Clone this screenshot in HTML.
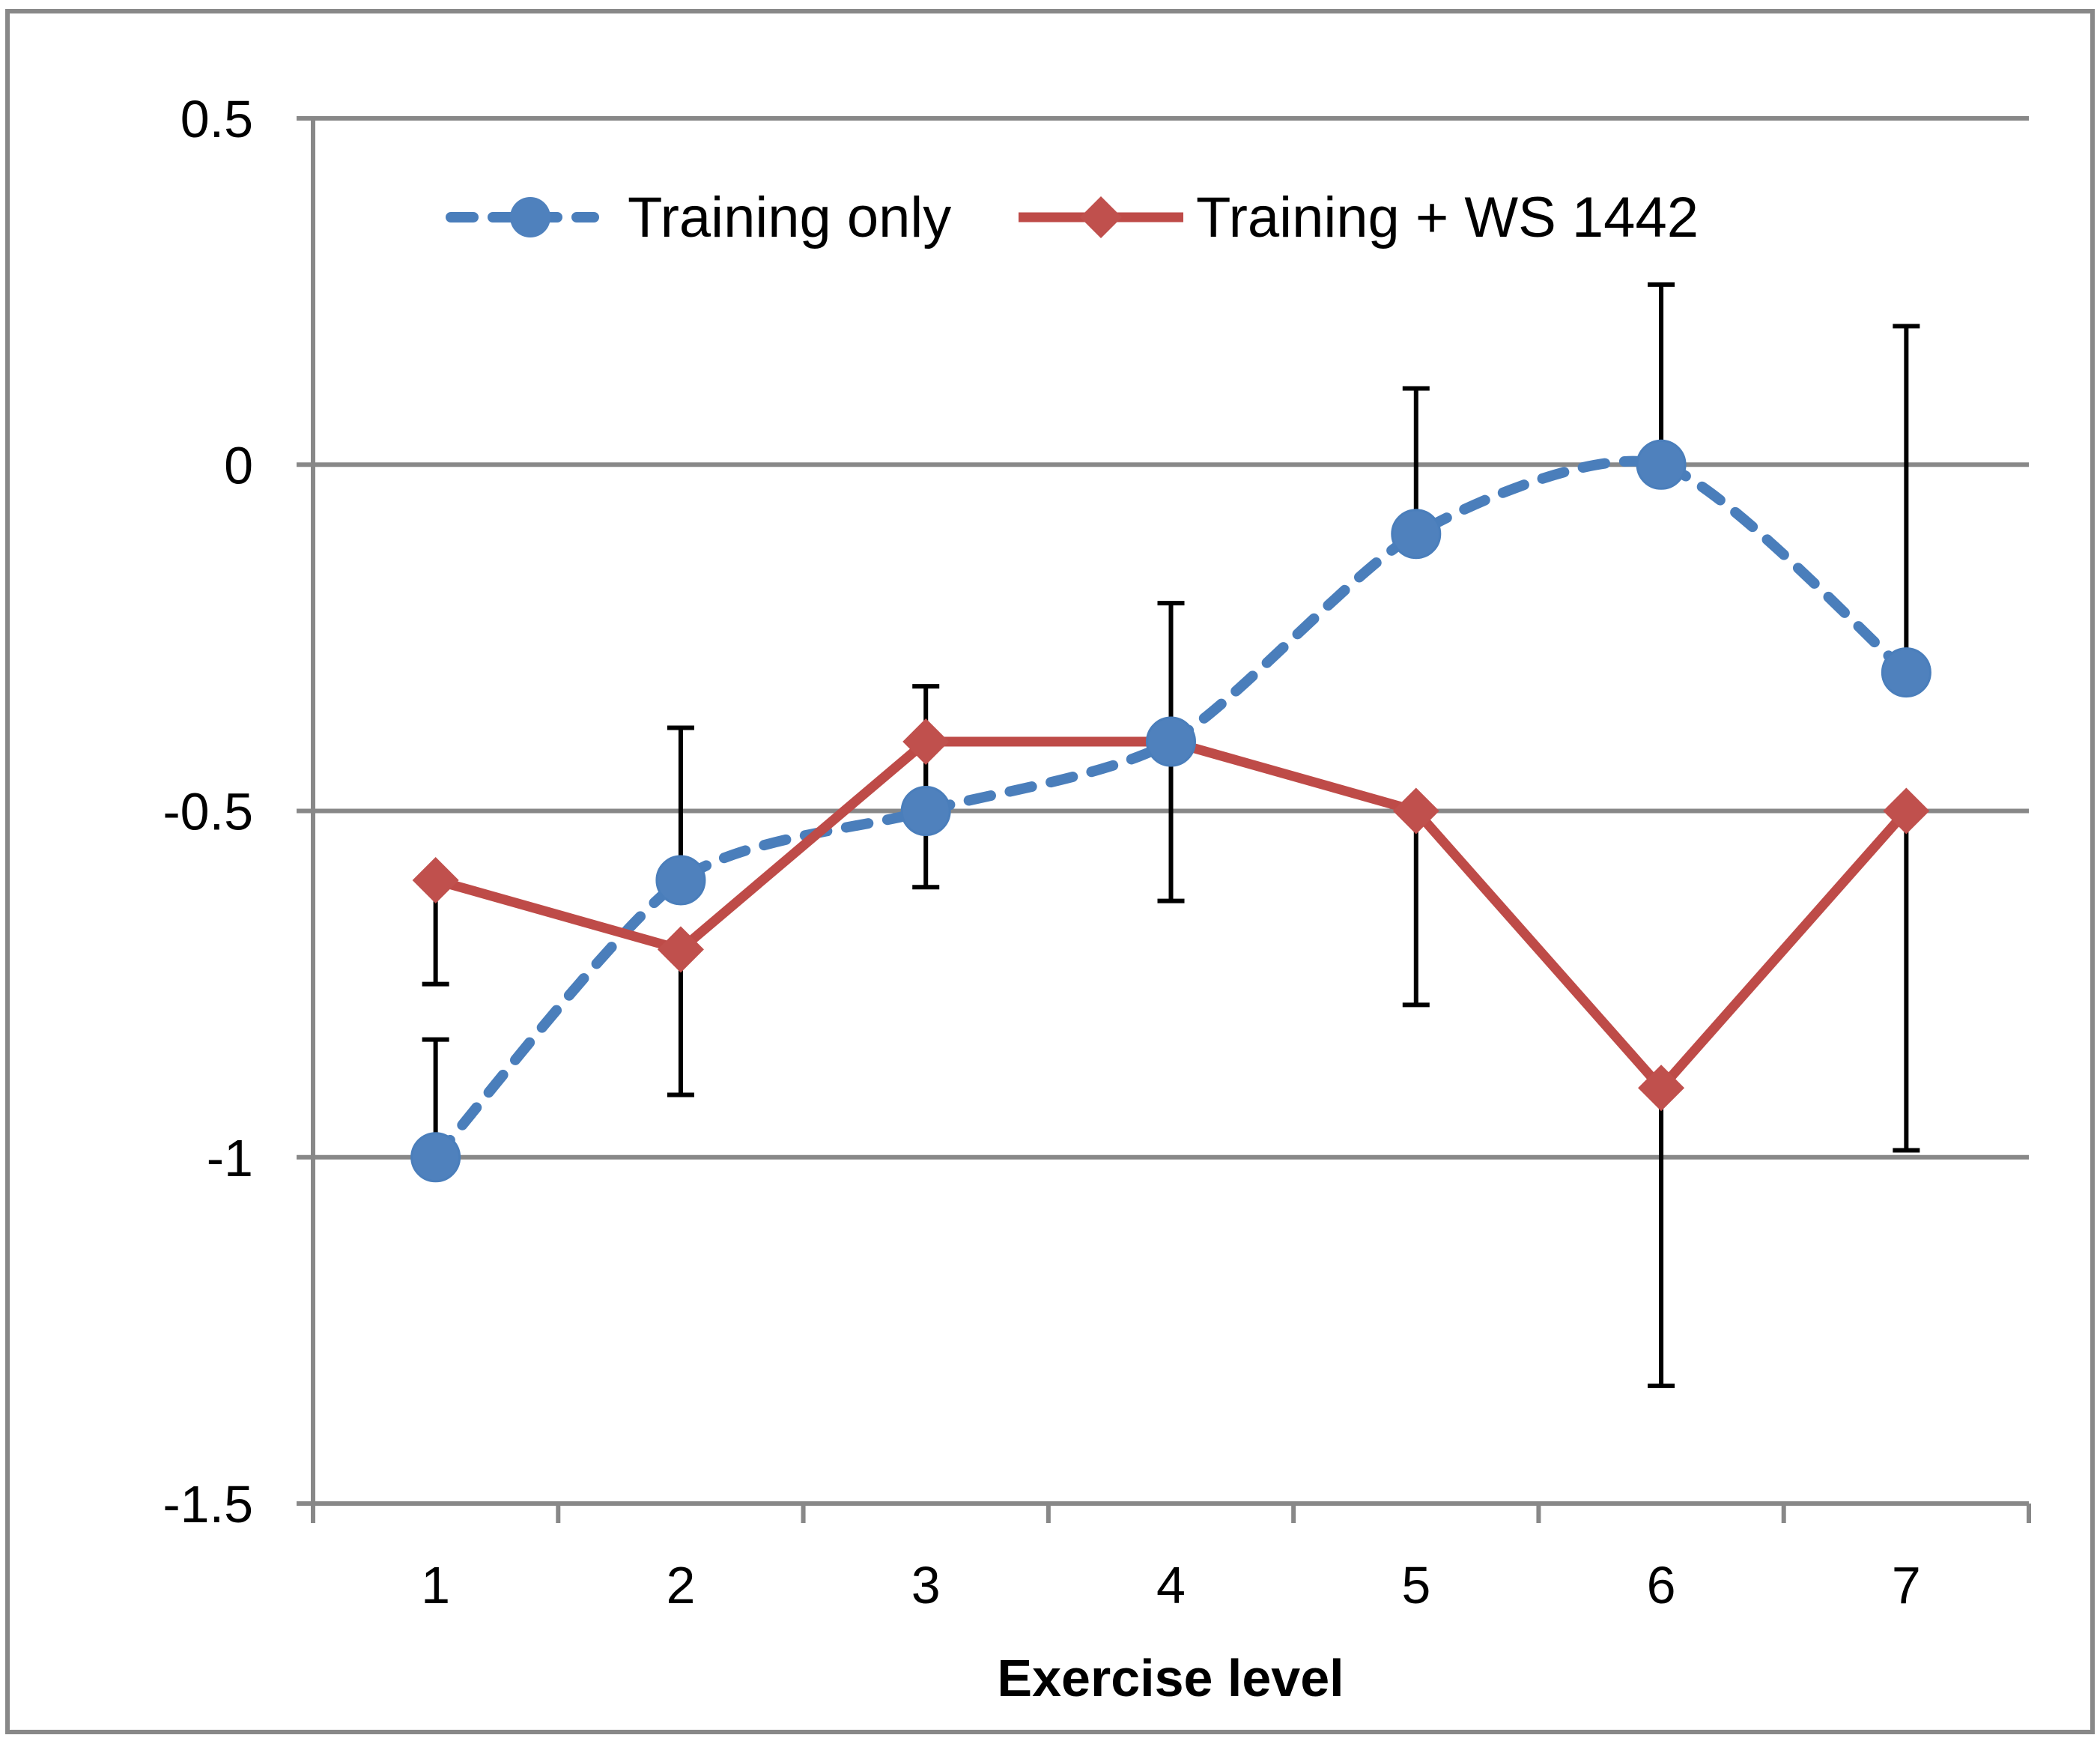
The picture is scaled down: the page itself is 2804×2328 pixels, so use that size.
<!DOCTYPE html>
<html><head><meta charset="utf-8"><style>
html,body{margin:0;padding:0;background:#fff}
svg{display:block}
text{font-family:"Liberation Sans",sans-serif;fill:#000}
</style></head><body>
<svg id="chart" width="2804" height="2328" viewBox="0 0 2804 2328">
<rect x="10" y="15" width="2784" height="2297" fill="#fff" stroke="#888" stroke-width="6"/>
<g id="grid"></g><g id="axes"></g><g id="errs"></g><g id="lines"></g><g id="marks"></g>
<text x="1563" y="2264" font-size="70" font-weight="bold" text-anchor="middle">Exercise level</text>
<g>
<g>
<line x1="602" y1="290" x2="793" y2="290" stroke="#4a7ebb" stroke-width="14" stroke-dasharray="30 26" stroke-linecap="round"/>
<circle cx="708" cy="290" r="27" fill="#4f81bd"/>
<text x="838" y="316" font-size="76">Training only</text></g>
<g>
<line x1="1360" y1="290" x2="1580" y2="290" stroke="#be4b48" stroke-width="13"/>
<path d="M1470 262 L1498 290 L1470 318 L1442 290 Z" fill="#c0504d"/>
<text x="1597" y="316" font-size="76">Training + WS 1442</text></g>
</g>
</svg>
<script>
const categories=["1","2","3","4","5","6","7"];
const yTicks=[0.5,0,-0.5,-1,-1.5];
const yTickLabels=["0.5","0","-0.5","-1","-1.5"];
const trainingOnly=[-1,-0.6,-0.5,-0.4,-0.1,0,-0.3];
const trainingOnlyErrUpper=[-0.83,-0.38,-0.32,-0.2,0.11,0.26,0.2];
const trainingWS=[-0.6,-0.7,-0.4,-0.4,-0.5,-0.9,-0.5];
const trainingWSErrLower=[-0.75,-0.91,-0.61,-0.63,-0.78,-1.33,-0.99];
const NS="http://www.w3.org/2000/svg";
const L=418,R=2709,T=158,B=2007,yMax=0.5,yMin=-1.5;
const cw=(R-L)/categories.length;
const xs=i=>L+cw*(i+0.5);
const ys=v=>T+(yMax-v)/(yMax-yMin)*(B-T);
function mk(tag,attrs,parent){const e=document.createElementNS(NS,tag);for(const k in attrs)e.setAttribute(k,attrs[k]);document.getElementById(parent).appendChild(e);return e;}
yTicks.forEach((v,i)=>{
 const g=mk('line',{x1:L-22,x2:R,y1:ys(v),y2:ys(v),stroke:'#888','stroke-width':6},'grid');
 
 
 const t=mk('text',{x:L-80,y:ys(v)+25,'font-size':70,'text-anchor':'end'},'axes');
 t.textContent=yTickLabels[i];
 
 
});
const ya=mk('line',{x1:L,x2:L,y1:T,y2:B+26,stroke:'#888','stroke-width':6},'axes');


for(let i=1;i<=categories.length;i++){
 const tk=mk('line',{x1:L+cw*i,x2:L+cw*i,y1:B,y2:B+26,stroke:'#888','stroke-width':6},'axes');
 
 
}
categories.forEach((c,i)=>{
 const t=mk('text',{x:xs(i),y:2140,'font-size':70,'text-anchor':'middle'},'axes');
 t.textContent=c;
 
 
});
function errBar(i,v1,v2){
 const l=mk('line',{x1:xs(i),x2:xs(i),y1:ys(v1),y2:ys(v2),stroke:'#000','stroke-width':6},'errs');
 
 
 const c=mk('line',{x1:xs(i)-18,x2:xs(i)+18,y1:ys(v2),y2:ys(v2),stroke:'#000','stroke-width':6},'errs');
 
 
}
trainingOnly.forEach((v,i)=>errBar(i,v,trainingOnlyErrUpper[i]));
trainingWS.forEach((v,i)=>errBar(i,v,trainingWSErrLower[i]));
const P=trainingOnly.map((v,i)=>[xs(i),ys(v)]);
let d=`M${P[0][0]} ${P[0][1]}`;
const k=8;
for(let i=0;i<P.length-1;i++){
 const p0=P[Math.max(0,i-1)],p1=P[i],p2=P[i+1],p3=P[Math.min(P.length-1,i+2)];
 const c1=[p1[0]+(p2[0]-p0[0])/k,p1[1]+(p2[1]-p0[1])/k];
 const c2=[p2[0]-(p3[0]-p1[0])/k,p2[1]-(p3[1]-p1[1])/k];
 d+=` C${c1[0]} ${c1[1]} ${c2[0]} ${c2[1]} ${p2[0]} ${p2[1]}`;
}
const bl=mk('path',{d:d,fill:'none',stroke:'#4a7ebb','stroke-width':14,'stroke-dasharray':'30 26','stroke-linecap':'round'},'lines');


const rl=mk('polyline',{points:trainingWS.map((v,i)=>xs(i)+','+ys(v)).join(' '),fill:'none',stroke:'#be4b48','stroke-width':13,'stroke-linejoin':'round'},'lines');


trainingWS.forEach((v,i)=>{
 const x=xs(i),y=ys(v),s=31;
 const m=mk('path',{d:`M${x} ${y-s} L${x+s} ${y} L${x} ${y+s} L${x-s} ${y} Z`,fill:'#c0504d'},'marks');
 
 
});
trainingOnly.forEach((v,i)=>{
 const m=mk('circle',{cx:xs(i),cy:ys(v),r:32,fill:'#4f81bd',stroke:'#4a7ebb','stroke-width':3},'marks');
 
 
});
</script>
</body></html>
